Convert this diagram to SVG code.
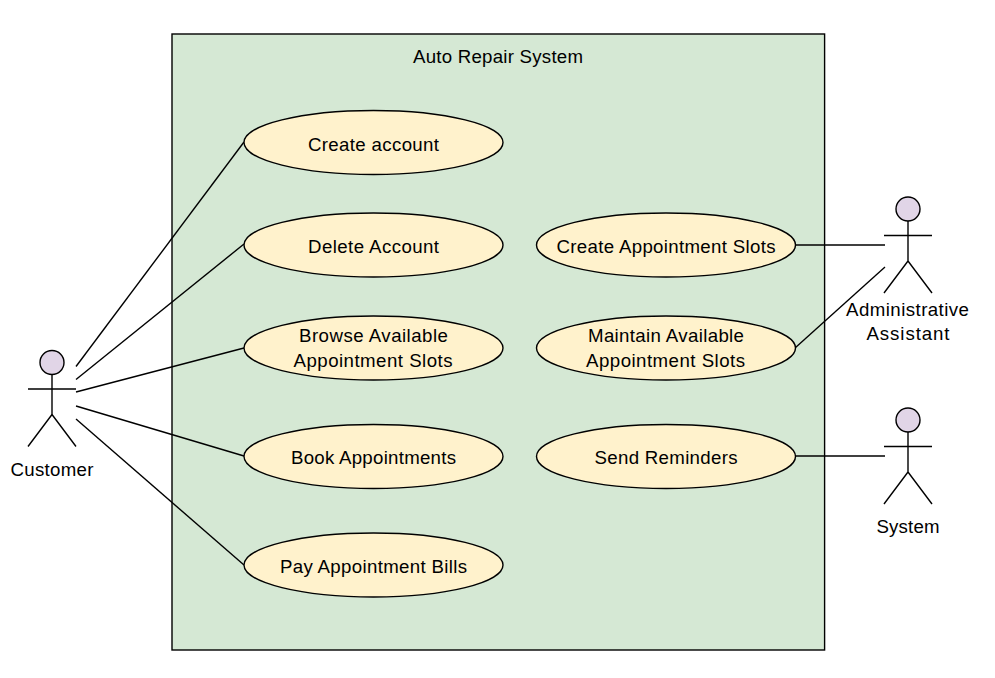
<svg xmlns="http://www.w3.org/2000/svg" width="995" height="678" viewBox="0 0 995 678">
<style>
text{font-family:"Liberation Sans",Arial,sans-serif;font-size:18.67px;fill:#000;text-anchor:middle}
.uc{fill:#fff2cc;stroke:#000;stroke-width:1.4}
.head{fill:#e1d5e7;stroke:#000;stroke-width:1.4}
.l{fill:none;stroke:#000;stroke-width:1.4}
</style>
<rect width="995" height="678" fill="#fff"/>
<g id="system"><rect x="172" y="34" width="652.600" height="616" fill="#d5e8d4" stroke="#000" stroke-width="1.400"/><text x="498" y="63" textLength="170">Auto Repair System</text></g>
<g id="connectors" class="l">
<path class="l" d="M76 366.500L244 142"/>
<path class="l" d="M76 379.500L244 244"/>
<path class="l" d="M76 392L244 348"/>
<path class="l" d="M76 406L244 456"/>
<path class="l" d="M76 419L244 565"/>
<path class="l" d="M795 245H885"/>
<path class="l" d="M795 348L885 267"/>
<path class="l" d="M795 456H885"/>
</g>
<g id="uc1"><ellipse class="uc" cx="373.500" cy="142.500" rx="129.500" ry="32"/><text x="373.500" y="151" textLength="131">Create account</text></g>
<g id="uc2"><ellipse class="uc" cx="373.500" cy="245" rx="129.500" ry="32"/><text x="373.500" y="253" textLength="131">Delete Account</text></g>
<g id="uc3"><ellipse class="uc" cx="373.500" cy="348" rx="129.500" ry="32"/><text x="373.500" y="342" textLength="149">Browse Available</text><text x="373" y="367" textLength="159">Appointment Slots</text></g>
<g id="uc4"><ellipse class="uc" cx="373.500" cy="456.500" rx="129.500" ry="32"/><text x="373.500" y="464" textLength="165">Book Appointments</text></g>
<g id="uc5"><ellipse class="uc" cx="373.500" cy="565" rx="129.500" ry="32"/><text x="373.500" y="573" textLength="187">Pay Appointment Bills</text></g>
<g id="uc6"><ellipse class="uc" cx="666" cy="245" rx="129.500" ry="32"/><text x="666" y="253" textLength="219">Create Appointment Slots</text></g>
<g id="uc7"><ellipse class="uc" cx="666" cy="348" rx="129.500" ry="32"/><text x="666" y="342" textLength="156">Maintain Available</text><text x="665.500" y="367" textLength="159">Appointment Slots</text></g>
<g id="uc8"><ellipse class="uc" cx="666" cy="456.500" rx="129.500" ry="32"/><text x="666" y="464" textLength="143">Send Reminders</text></g>
<g id="customer"><circle class="head" cx="52" cy="362.500" r="12"/><path class="l" d="M52 374.500V414.500M28 389H76M52 414.500L28 446.500M52 414.500L76 446.500"/><text x="52" y="476" textLength="83">Customer</text></g>
<g id="admin"><circle class="head" cx="908" cy="209" r="12"/><path class="l" d="M908 221V261M884 235.500H932M908 261L884 293M908 261L932 293"/><text x="907.500" y="316" textLength="123">Administrative</text><text x="908" y="340" textLength="83">Assistant</text></g>
<g id="sys"><circle class="head" cx="908" cy="420" r="12"/><path class="l" d="M908 432V472M884 446.500H932M908 472L884 504M908 472L932 504"/><text x="908" y="533" textLength="63">System</text></g>
</svg>
